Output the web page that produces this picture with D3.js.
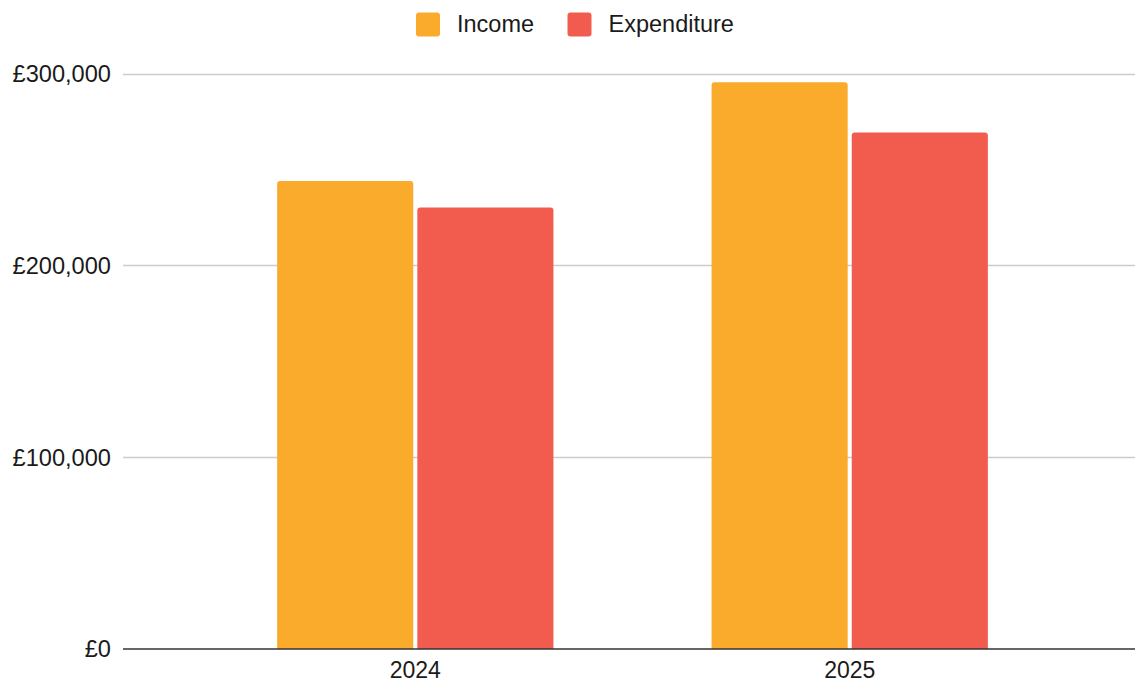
<!DOCTYPE html>
<html><head><meta charset="utf-8">
<script src="https://cdn.jsdelivr.net/npm/d3@7"></script>
<style>html,body{margin:0;padding:0;background:#fff;}svg{display:block;}</style>
</head><body>
<svg id="c" width="1135" height="682"></svg>
<script>
const years = ["2024", "2025"];
const seriesNames = ["Income", "Expenditure"];
const income = [244000, 295400];
const expenditure = [230200, 269300];
const yTicks = [0, 100000, 200000, 300000];
const colors = ["#FBAB2C", "#F15C4F"];

const values = [income, expenditure];
const svg = d3.select("#c");
const font = "'Liberation Sans', Arial, Helvetica, sans-serif";

const plotL = 124, plotR = 1141, plotTop = 73.5, plotBottom = 649;
const y = d3.scaleLinear().domain([0, 300000]).range([plotBottom, plotTop]);
const x0 = d3.scaleBand().domain(years).range([plotL, plotR]).paddingInner(0.364).paddingOuter(0.3525);
const x1 = d3.scaleBand().domain(seriesNames).range([0, x0.bandwidth()]).paddingInner(0.029);

const fmt = v => "£" + d3.format(",")(v);

// grid
svg.append("g").selectAll("line").data(yTicks.filter(d => d > 0)).join("line")
  .attr("x1", 123).attr("x2", 1135)
  .attr("y1", d => Math.round(y(d)) + 0.5).attr("y2", d => Math.round(y(d)) + 0.5)
  .attr("stroke", "#cccccc").attr("stroke-width", 1.3);

// y labels
svg.append("g").selectAll("text").data(yTicks).join("text")
  .attr("x", 111).attr("y", d => y(d)).attr("dy", "0.36em")
  .attr("text-anchor", "end").attr("font-family", font).attr("font-size", 23.6)
  .attr("fill", "#1a1a1a").text(fmt);

// bars
const r = 3;
years.forEach((yr, i) => {
  seriesNames.forEach((s, j) => {
    const bx = x0(yr) + x1(s), bw = x1.bandwidth();
    const by = y(values[j][i]), bb = y(0);
    const p = `M${bx},${bb} L${bx},${by + r} Q${bx},${by} ${bx + r},${by} L${bx + bw - r},${by} Q${bx + bw},${by} ${bx + bw},${by + r} L${bx + bw},${bb} Z`;
    svg.append("path").attr("d", p).attr("fill", colors[j]);
  });
});

// baseline
svg.append("line").attr("x1", 123).attr("x2", 1135)
  .attr("y1", plotBottom).attr("y2", plotBottom).attr("stroke", "#333").attr("stroke-width", 1.6);

// x labels
svg.append("g").selectAll("text").data(years).join("text")
  .attr("x", d => x0(d) + x0.bandwidth() / 2).attr("y", 678)
  .attr("text-anchor", "middle").attr("font-family", font).attr("font-size", 23)
  .attr("fill", "#1a1a1a").text(d => d);

// legend
const legX = [416, 567.5];
const lg = svg.append("g");
seriesNames.forEach((s, j) => {
  lg.append("rect").attr("x", legX[j]).attr("y", 12.5).attr("width", 24).attr("height", 24)
    .attr("rx", 3).attr("fill", colors[j]);
  lg.append("text").attr("x", legX[j] + 41).attr("y", 32).attr("font-family", font)
    .attr("font-size", 23.5).attr("fill", "#1a1a1a").text(s);
});
</script>
</body></html>
